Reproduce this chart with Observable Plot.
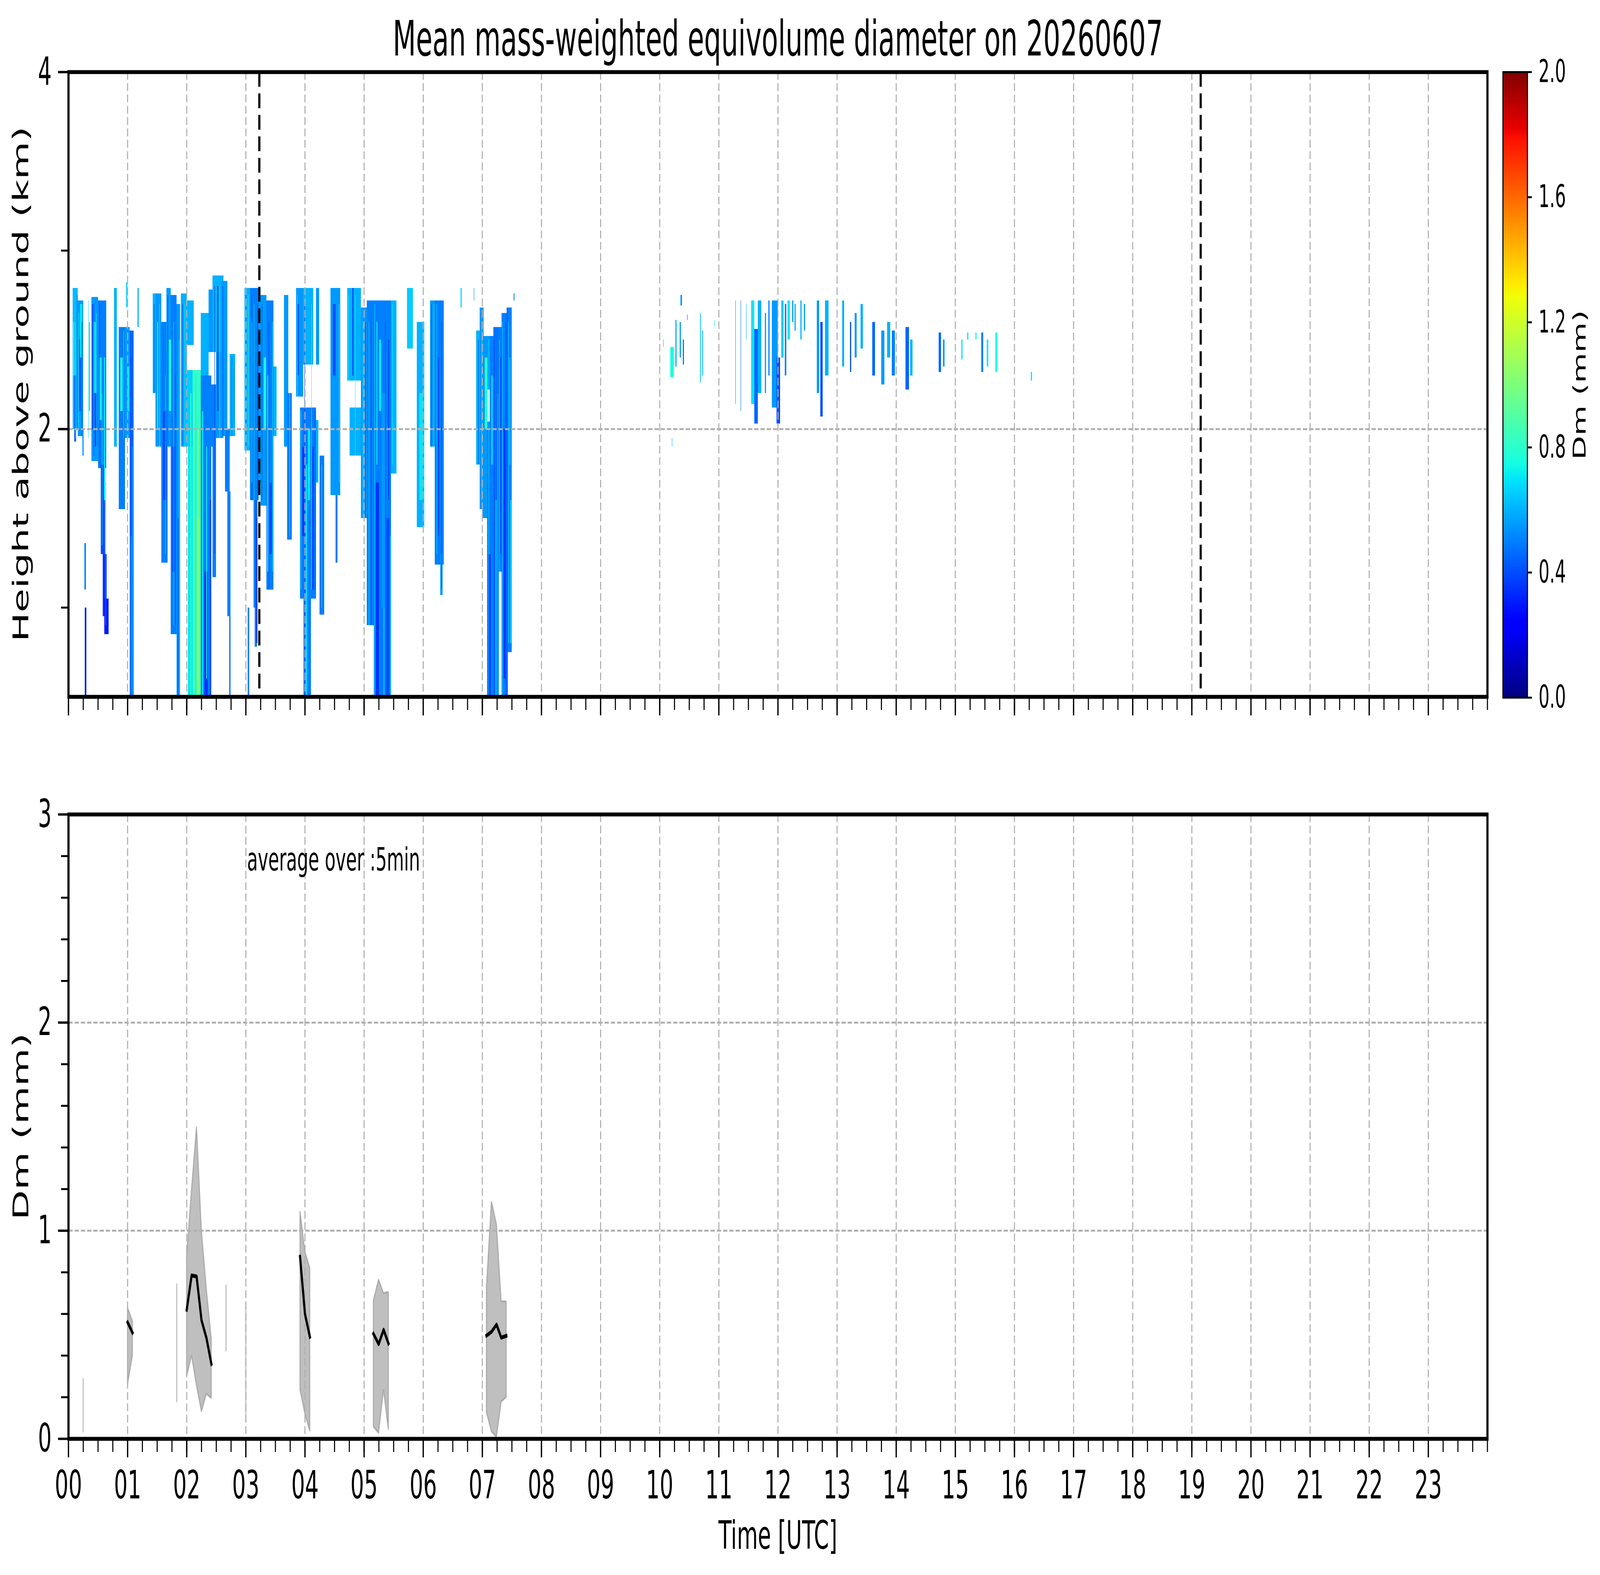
<!DOCTYPE html>
<html><head><meta charset="utf-8">
<script src="https://cdn.jsdelivr.net/npm/d3@7"></script>
<script src="https://cdn.jsdelivr.net/npm/@observablehq/plot@0.6"></script>
<style>
html,body{margin:0;padding:0;background:#fff;overflow:hidden;}
#wrap{position:absolute;left:0;top:0;width:7442px;height:4031px;background:#fff;overflow:hidden;font-family:"DejaVu Sans",sans-serif;color:#000;transform-origin:0 0;}
.lbl{position:absolute;white-space:nowrap;line-height:1;color:#000;font-family:"DejaVu Sans",sans-serif;}
#wrap svg{position:absolute;max-width:none;}
</style></head>
<body><div id="wrap"></div>
<script>
// ---------- DATA ----------
const titleText = "Mean mass-weighted equivolume diameter on 20260607";
const hourTicks = [0,1,2,3,4,5,6,7,8,9,10,11,12,13,14,15,16,17,18,19,20,21,22,23];
const hourLabels = ["00","01","02","03","04","05","06","07","08","09","10","11","12","13","14","15","16","17","18","19","20","21","22","23"];
const quarterTicks = d3.range(0, 24.001, 0.25);
const gridHours = hourTicks.slice(1);
const heightMajor = [2, 4];
const heightMinor = [1, 3];
const dmMajor = [0, 1, 2, 3];
const dmMinor = [0.2,0.4,0.6,0.8,1.2,1.4,1.6,1.8,2.2,2.4,2.6,2.8];
const cbTicks = [0, 0.4, 0.8, 1.2, 1.6, 2.0];
const nightLines = [3.228, 19.15];

// jet colormap breakpoints (Dm mm) and colours
const jetDomain = [0, 0.22, 0.25, 0.68, 0.70, 0.75, 1.28, 1.30, 1.32, 1.78, 1.82, 2.0];
const jetRange = ["rgb(0,0,128)","rgb(0,0,255)","rgb(0,0,255)","rgb(0,219,255)","rgb(0,230,247)","rgb(21,255,226)","rgb(239,255,8)","rgb(247,245,0)","rgb(255,236,0)","rgb(255,19,0)","rgb(232,0,0)","rgb(128,0,0)"];

// radar Dm cells: [time start h, time end h, bottom km, top km, Dm mm]
const cellsEarly = [
[0.075,0.16,2.00,2.79,0.62],[0.16,0.25,1.96,2.72,0.55],[0.10,0.13,1.93,2.30,0.45],[0.18,0.21,2.10,2.50,0.40],
[0.08,0.10,2.30,2.60,0.75],[0.20,0.23,2.40,2.70,0.72],[0.235,0.255,1.85,2.00,0.55],[0.27,0.30,1.10,1.36,0.52],
[0.28,0.305,0.50,1.00,0.30],[0.335,0.345,1.95,2.72,0.70],[0.35,0.36,2.10,2.60,0.60],[0.39,0.50,1.82,2.74,0.55],
[0.50,0.64,1.78,2.72,0.50],[0.55,0.62,1.30,1.80,0.40],[0.58,0.65,0.95,1.30,0.35],[0.61,0.68,0.85,1.05,0.30],
[0.42,0.46,2.20,2.60,0.72],[0.52,0.56,2.05,2.40,0.75],[0.45,0.48,1.90,2.20,0.35],[0.60,0.62,1.60,2.40,0.70],
[0.40,0.415,2.00,2.70,0.35],[0.77,0.82,1.90,2.79,0.60],
[0.85,0.96,1.55,2.57,0.50],[0.96,1.04,1.95,2.57,0.55],[1.04,1.10,0.50,2.55,0.45],[1.045,1.085,0.50,1.40,0.52],
[0.88,0.92,2.10,2.40,0.75],[1.00,1.03,2.10,2.35,0.70],[0.98,1.00,2.68,2.82,0.65],[1.17,1.19,2.57,2.79,0.60],
[1.43,1.47,2.20,2.76,0.60],[1.47,1.57,1.90,2.76,0.55],[1.57,1.68,1.25,2.60,0.50],[1.60,1.66,1.60,2.10,0.40],
[1.50,1.52,2.00,2.60,0.72],
[1.66,1.73,1.90,2.79,0.55],[1.73,1.83,0.85,2.75,0.50],[1.83,1.89,0.50,2.70,0.55],[1.76,1.80,1.20,1.90,0.40],
[1.70,1.74,2.10,2.50,0.75],[1.85,1.865,0.50,1.50,0.38],[1.90,2.00,1.90,2.76,0.60],[2.00,2.12,1.90,2.33,0.65],[2.00,2.12,2.47,2.72,0.60],
[2.02,2.10,0.50,1.90,0.70],[2.10,2.24,0.50,2.33,0.82],[2.16,2.22,0.50,1.50,0.92],[2.24,2.42,0.50,2.30,0.50],
[2.30,2.36,0.50,1.20,0.35],[2.06,2.08,0.50,2.20,0.80],[2.26,2.28,0.50,2.10,0.70],[2.33,2.345,0.60,1.90,0.75],[2.39,2.41,0.50,1.60,0.38],
[2.24,2.37,2.30,2.65,0.60],[2.37,2.44,2.43,2.78,0.55],[2.44,2.62,2.43,2.86,0.60],
[2.37,2.44,1.90,2.25,0.50],[2.44,2.50,1.17,2.25,0.50],[2.50,2.62,1.95,2.43,0.55],[2.52,2.54,2.10,2.80,0.38],[2.586,2.69,1.96,2.83,0.55],
[2.73,2.82,1.96,2.42,0.60],[2.65,2.73,1.65,2.00,0.50],[2.69,2.74,0.95,1.65,0.50],[2.72,2.745,0.50,0.95,0.45],
[2.797,2.803,2.05,2.35,1.70]
];
const cellsMid = [
[2.98,3.07,1.88,2.79,0.60],[3.035,3.06,0.50,1.00,0.50],[3.07,3.22,1.60,2.79,0.50],[3.13,3.20,1.00,1.60,0.45],
[3.15,3.19,0.78,1.00,0.50],[3.22,3.25,1.70,2.79,0.55],[3.09,3.11,1.70,2.60,0.70],[3.18,3.20,0.80,1.50,0.35],
[3.25,3.35,1.57,2.75,0.55],[3.35,3.47,1.10,2.72,0.50],[3.36,3.38,1.20,2.30,0.70],
[3.47,3.52,1.96,2.35,0.60],[3.30,3.34,2.00,2.40,0.75],[3.40,3.44,1.30,1.70,0.38],[3.65,3.72,1.90,2.75,0.55],
[3.70,3.78,1.38,2.20,0.50],[3.85,3.97,2.18,2.79,0.55],[3.97,4.14,2.36,2.79,0.60],[3.92,4.19,1.05,2.12,0.50],
[3.98,4.10,0.50,1.05,0.50],[3.95,4.00,1.40,1.90,0.38],[4.05,4.09,1.60,2.00,0.70],[4.02,4.035,0.50,1.80,0.70],
[4.13,4.15,1.10,1.90,0.35],[3.88,3.90,2.30,2.70,0.40],[4.19,4.24,2.36,2.79,0.55],
[4.19,4.23,1.70,2.05,0.60],[4.25,4.33,0.96,1.85,0.50],[4.43,4.60,1.63,2.79,0.55],[4.52,4.555,1.25,1.63,0.50],
[4.47,4.52,2.30,2.70,0.40],[4.72,4.95,2.27,2.79,0.60],[4.76,4.95,1.85,2.12,0.60],[4.80,4.82,2.30,2.79,0.38],[4.95,5.05,1.50,2.68,0.55],
[5.05,5.17,0.90,2.72,0.50],[5.165,5.46,0.50,2.72,0.50],[5.46,5.55,1.75,2.72,0.60],[5.20,5.25,0.50,1.70,0.35],
[5.30,5.36,1.00,2.20,0.55],[5.38,5.43,0.50,1.50,0.40],[5.25,5.29,2.10,2.50,0.70],[5.21,5.225,1.80,2.60,0.75],
[5.33,5.345,0.50,1.00,0.70],[5.41,5.425,1.60,2.50,0.35],[5.44,5.455,0.50,1.40,0.60],[5.73,5.83,2.45,2.79,0.65],
[5.89,6.02,1.45,2.60,0.60],[5.93,5.99,1.60,2.20,0.70],[6.12,6.20,1.90,2.72,0.55],[6.20,6.35,1.24,2.72,0.50],
[6.25,6.27,1.40,2.40,0.38],[6.29,6.33,1.07,1.30,0.55],[6.635,6.65,2.68,2.79,0.70],[6.855,6.865,2.72,2.79,0.50],[6.90,6.96,1.80,2.55,0.60],
[6.96,7.02,1.55,2.68,0.55],[7.00,7.08,1.50,2.52,0.55],[7.08,7.13,0.50,2.04,0.50],[7.08,7.13,2.22,2.52,0.55],
[7.13,7.19,0.50,2.52,0.50],[7.19,7.28,0.50,2.57,0.48],[7.28,7.33,1.20,2.57,0.50],[7.33,7.41,0.50,2.65,0.50],
[7.41,7.43,0.50,2.68,0.45],[7.43,7.50,0.75,2.68,0.50],[7.10,7.14,0.50,1.30,0.35],[7.22,7.25,0.50,1.60,0.60],
[7.36,7.39,0.60,2.00,0.35],[7.15,7.18,1.80,2.30,0.65],[7.45,7.48,1.80,2.40,0.60],[7.04,7.09,2.00,2.40,0.80],
[7.26,7.27,0.50,2.20,0.70],[7.31,7.32,1.30,2.40,0.35],[7.47,7.49,0.80,1.60,0.65],
[7.53,7.545,2.72,2.76,0.50]
];
// thin streaks inside the echo bands (texture)
const cellsStreaks = [
[0.09,0.095,2.00,2.70,0.35],[0.12,0.125,1.95,2.60,0.80],[0.145,0.15,2.00,2.75,0.38],[0.17,0.175,2.00,2.65,0.75],[0.225,0.23,1.96,2.60,0.35],
[0.43,0.435,1.85,2.70,0.38],[0.47,0.475,1.90,2.65,0.75],[0.53,0.535,1.80,2.70,0.35],[0.57,0.575,1.35,2.20,0.72],[0.63,0.635,0.90,1.70,0.60],
[0.87,0.875,1.60,2.50,0.35],[0.93,0.935,1.95,2.55,0.75],[1.06,1.065,0.50,2.40,0.35],[1.08,1.085,0.50,1.90,0.70],
[1.45,1.455,2.20,2.70,0.35],[1.54,1.545,1.90,2.70,0.75],[1.59,1.595,1.30,2.50,0.35],[1.64,1.645,1.30,2.30,0.72],
[1.68,1.685,1.90,2.75,0.35],[1.78,1.785,0.90,2.60,0.72],[1.81,1.815,0.90,2.30,0.35],[1.87,1.875,0.50,2.50,0.72],
[2.12,2.13,0.50,2.20,1.00],[2.15,2.16,0.50,2.30,0.72],[2.19,2.20,0.50,2.00,1.10],[2.22,2.23,0.50,1.80,0.90],
[1.93,1.935,1.90,2.70,0.35],[1.97,1.975,1.90,2.70,0.75],[2.27,2.275,0.50,2.20,0.35],[2.35,2.355,0.50,2.30,0.75],
[2.47,2.475,1.30,2.80,0.35],[2.56,2.565,1.95,2.80,0.75],[2.60,2.605,1.95,2.80,0.38],
[2.61,2.615,1.96,2.80,0.35],[2.66,2.665,1.96,2.80,0.75],[2.76,2.765,1.96,2.40,0.35],
[3.00,3.005,1.90,2.75,0.35],[3.04,3.045,1.90,2.75,0.78],[3.10,3.105,1.60,2.75,0.38],[3.14,3.145,1.00,2.70,0.72],
[3.20,3.205,1.60,2.70,0.35],[3.27,3.275,1.60,2.70,0.35],[3.32,3.325,1.60,2.70,0.78],[3.39,3.395,1.10,2.60,0.35],[3.45,3.455,1.20,2.60,0.75],
[3.67,3.675,1.90,2.70,0.35],[3.74,3.745,1.40,2.20,0.75],
[3.87,3.875,2.18,2.75,0.75],[3.93,3.935,1.10,2.10,0.75],[3.99,3.995,0.50,2.70,0.35],[4.06,4.065,0.50,2.00,0.78],
[4.08,4.085,0.50,1.50,0.35],[4.11,4.115,1.10,2.70,0.75],[4.17,4.175,1.10,2.10,0.35],[4.28,4.285,1.00,1.80,0.72],
[4.45,4.455,1.70,2.75,0.75],[4.55,4.555,1.70,2.75,0.35],[4.58,4.585,1.70,2.70,0.75],
[4.74,4.745,2.27,2.75,0.75],[4.85,4.855,1.85,2.75,0.75],[4.90,4.905,2.27,2.75,0.35],[4.98,4.985,1.50,2.60,0.75],
[5.02,5.025,1.50,2.60,0.35],[5.08,5.085,0.90,2.60,0.72],[5.12,5.125,0.90,2.60,0.35],
[5.18,5.185,0.50,2.70,0.72],[5.27,5.275,0.50,2.00,0.35],[5.29,5.295,0.50,1.80,0.70],[5.36,5.365,0.50,2.60,0.35],
[5.48,5.485,1.80,2.70,0.75],[5.52,5.525,1.80,2.70,0.38],
[5.95,5.955,1.50,2.50,0.35],[6.14,6.145,1.90,2.70,0.35],[6.18,6.185,1.90,2.70,0.75],[6.23,6.235,1.30,2.70,0.72],[6.31,6.315,1.10,2.60,0.35],
[6.93,6.935,1.80,2.50,0.35],[6.99,6.995,1.60,2.60,0.75],[7.11,7.115,0.50,2.50,0.72],[7.16,7.165,0.50,1.70,0.35],
[7.20,7.205,0.50,2.50,0.35],[7.29,7.295,1.20,2.50,0.72],[7.34,7.345,0.50,2.60,0.70],[7.40,7.405,0.50,2.60,0.35],[7.44,7.445,0.80,2.60,0.72]
];
const cellsLate = [
[9.94,9.946,2.53,2.57,0.40],[10.06,10.066,2.46,2.50,0.60],[10.18,10.24,2.29,2.46,0.75],[10.27,10.29,2.35,2.61,0.60],
[10.34,10.36,2.40,2.60,0.55],[10.39,10.41,2.36,2.50,0.50],[10.35,10.38,2.69,2.75,0.55],[10.465,10.472,2.61,2.64,0.40],
[10.68,10.695,2.26,2.65,0.65],[10.72,10.735,2.30,2.55,0.60],[10.93,10.936,2.57,2.61,0.70],[10.21,10.216,1.90,1.95,0.60],
[11.28,11.29,2.14,2.72,0.75],[11.37,11.38,2.10,2.72,0.45],[11.46,11.47,2.50,2.70,0.60],[11.55,11.60,2.14,2.72,0.70],
[11.60,11.66,2.03,2.56,0.45],[11.66,11.72,2.20,2.72,0.60],[11.78,11.80,2.20,2.65,0.55],[11.84,11.86,2.30,2.72,0.50],
[11.90,12.00,2.12,2.72,0.55],[11.98,12.04,2.03,2.40,0.40],[12.06,12.10,2.40,2.72,0.65],[12.12,12.14,2.30,2.70,0.50],
[12.16,12.20,2.50,2.72,0.70],[12.24,12.26,2.60,2.72,0.55],[12.28,12.30,2.55,2.70,0.60],[12.38,12.40,2.50,2.72,0.60],
[12.44,12.46,2.55,2.70,0.55],[12.66,12.70,2.20,2.72,0.55],[12.72,12.76,2.07,2.60,0.40],[12.80,12.86,2.30,2.72,0.60],
[13.09,13.12,2.35,2.72,0.60],[13.22,13.24,2.32,2.60,0.40],[13.30,13.33,2.40,2.65,0.55],[13.40,13.44,2.45,2.70,0.60],
[13.60,13.64,2.30,2.60,0.45],[13.75,13.80,2.25,2.55,0.55],[13.85,13.90,2.40,2.60,0.60],[13.93,13.98,2.30,2.55,0.50],
[14.16,14.22,2.22,2.57,0.45],[14.24,14.28,2.30,2.50,0.60],[14.72,14.76,2.32,2.54,0.45],[14.79,14.82,2.35,2.50,0.55],
[15.10,15.12,2.39,2.50,0.70],[15.20,15.22,2.50,2.54,0.70],[15.34,15.36,2.50,2.54,0.75],[15.44,15.47,2.32,2.54,0.50],
[15.53,15.56,2.35,2.50,0.70],[15.68,15.71,2.32,2.54,0.75],[16.28,16.30,2.27,2.32,0.70]
];

// 5-min averaged Dm (mm): group id, time (h), mean, low, high
const dmGroup = ["a","b","b","c","d","d","d","d","d","d","e","f","g","g","g","h","h","h","h","i","i","i","i","i"];
const dmTime  = [0.25, 1.0,1.083, 1.833, 2.0,2.083,2.167,2.25,2.333,2.417, 2.667, 3.0, 3.917,4.0,4.083, 5.158,5.246,5.33,5.412, 7.07,7.155,7.24,7.32,7.405];
const dmMean  = [null, 0.56,0.51, null, 0.62,0.785,0.78,0.57,0.485,0.36, null, null, 0.875,0.60,0.49, 0.505,0.455,0.524,0.458, 0.496,0.514,0.549,0.486,0.495];
const dmLow   = [0.03, 0.26,0.40, 0.175, 0.30,0.40,0.255,0.13,0.215,0.195, 0.42, 0.085, 0.236,0.12,0.036, 0.058,0.027,0.235,0.043, 0.128,0.034,0.008,0.178,0.20];
const dmHigh  = [0.29, 0.63,0.565, 0.745, 0.88,1.20,1.50,1.00,0.72,0.48, 0.74, 0.63, 1.094,0.90,0.82, 0.663,0.765,0.70,0.705, 0.725,1.14,1.03,0.66,0.66];
const notes = [{t: 3.02, v: 2.78, label: "average over :5min"}];

// ---------- BUILD ----------
const cells = [...cellsEarly, ...cellsMid, ...cellsStreaks, ...cellsLate].map(([t0,t1,hb,ht,dm]) => ({t0,t1,hb,ht,dm}));
const dmRows = dmTime.map((t,i) => ({g: dmGroup[i], t, m: dmMean[i], lo: dmLow[i], hi: dmHigh[i]}));
const colorOpts = {type: "linear", domain: jetDomain, range: jetRange, interpolate: "rgb", clamp: true};
const baseStyle = {fontFamily: "DejaVu Sans", fontSize: "100px", color: "black", background: "transparent", overflow: "visible"};
const gridStyle = {stroke: "#b0b0b0", strokeOpacity: 1, strokeWidth: 5, strokeDasharray: "20,9"};
const blank = () => "";
const intFmt = d => String(d);

const wrapEl = document.getElementById("wrap");
function put(el, left, topPx) { el.style.left = left + "px"; el.style.top = topPx + "px"; wrapEl.appendChild(el); }
function addLabel(text, size, cx, cy, rotate) {
  const d = document.createElement("div");
  d.className = "lbl"; d.textContent = text; d.style.fontSize = size + "px";
  d.style.left = cx + "px"; d.style.top = cy + "px";
  d.style.transform = "translate(-50%,-50%)" + (rotate ? " rotate(-90deg)" : "");
  wrapEl.appendChild(d);
}

// top panel
const topPanel = Plot.plot({
  width: 6990, height: 2000,
  marginLeft: 318, marginRight: 72, marginTop: 184, marginBottom: 217,
  x: {domain: [0, 24]},
  y: {domain: [0.5, 4]},
  color: colorOpts,
  style: baseStyle,
  marks: [
    Plot.rect(cells, {x1: "t0", x2: "t1", y1: "hb", y2: "ht", fill: "dm", shapeRendering: "crispEdges"}),
    Plot.gridX(gridHours, gridStyle),
    Plot.gridY([2], gridStyle),
    Plot.ruleX(nightLines, {stroke: "black", strokeWidth: 10, strokeDasharray: "38,17"}),
    Plot.frame({stroke: "black", strokeWidth: 10}),
    Plot.axisX(quarterTicks, {tickSize: 34, tickFormat: blank, strokeWidth: 5, label: null}),
    Plot.axisX(hourTicks, {tickSize: 48, tickFormat: blank, strokeWidth: 6, label: null}),
    Plot.axisY(heightMinor, {tickSize: 34, tickFormat: blank, strokeWidth: 5, label: null}),
    Plot.axisY(heightMajor, {tickSize: 48, tickPadding: 30, strokeWidth: 6, fontSize: 100, tickFormat: intFmt, label: null})
  ]
});
put(topPanel, 0, 0);

// bottom panel
const bottomPanel = Plot.plot({
  width: 6990, height: 2031,
  marginLeft: 318, marginRight: 72, marginTop: 84, marginBottom: 349,
  x: {domain: [0, 24]},
  y: {domain: [0, 3]},
  style: baseStyle,
  marks: [
    Plot.area(dmRows, {x1: "t", y1: "lo", y2: "hi", z: "g", fill: "gray", fillOpacity: 0.5, stroke: "gray", strokeOpacity: 0.5, strokeWidth: 5, strokeLinejoin: "miter"}),
    Plot.gridX(gridHours, gridStyle),
    Plot.gridY([1, 2], gridStyle),
    Plot.line(dmRows.filter(d => d.m != null), {x: "t", y: "m", z: "g", stroke: "black", strokeWidth: 10, strokeLinecap: "square", strokeLinejoin: "round"}),
    Plot.text(notes, {x: "t", y: "v", text: "label", textAnchor: "start", fontSize: 82}),
    Plot.frame({stroke: "black", strokeWidth: 10}),
    Plot.axisX(quarterTicks, {tickSize: 34, tickFormat: blank, strokeWidth: 5, label: null}),
    Plot.axisX(hourTicks, {tickSize: 48, tickPadding: 33, strokeWidth: 6, fontSize: 100, tickFormat: d => hourLabels[d], label: null}),
    Plot.axisY(dmMinor, {tickSize: 34, tickFormat: blank, strokeWidth: 5, label: null}),
    Plot.axisY(dmMajor, {tickSize: 48, tickPadding: 30, strokeWidth: 6, fontSize: 100, tickFormat: intFmt, label: null})
  ]
});
put(bottomPanel, 0, 2000);

// colour bar
const cbStep = 0.005;
const cbStops = d3.range(0, 2, cbStep);
const cbarPanel = Plot.plot({
  width: 482, height: 2000,
  marginLeft: 30, marginRight: 338, marginTop: 184, marginBottom: 215,
  x: {domain: [0, 1], axis: null},
  y: {domain: [0, 2]},
  color: colorOpts,
  style: {...baseStyle, fontSize: "80px"},
  marks: [
    Plot.rect(cbStops, {x1: 0, x2: 1, y1: d => d, y2: d => d + cbStep * 1.6, fill: d => d + cbStep / 2, shapeRendering: "crispEdges"}),
    Plot.frame({stroke: "black", strokeWidth: 5}),
    Plot.axisY(cbTicks, {anchor: "right", tickSize: 20, tickPadding: 32, strokeWidth: 5, fontSize: 80, tickFormat: d => d.toFixed(1), label: null})
  ]
});
put(cbarPanel, 6960, 0);

// texts
addLabel(titleText, 125, 3618, 98, false);
addLabel("Time [UTC]", 100, 3618, 3930, false);
addLabel("Height above ground (km)", 100, 97, 983, true);
addLabel("Dm (mm)", 100, 97, 2883, true);
addLabel("Dm (mm)", 80, 7347, 985, true);

// the browser may cap the window below 7442x4031: stretch the 7442x4031 drawing to fill the window it got
function fit() {
  const de = document.documentElement;
  const vw = window.innerWidth || de.clientWidth || 7442;
  const vh = window.innerHeight || de.clientHeight || 4031;
  const sx = Math.min(1, vw / 7442), sy = Math.min(1, vh / 4031);
  wrapEl.style.transform = "scale(" + sx + "," + sy + ")";
}
fit();
window.addEventListener("resize", fit);
</script>
</body></html>
